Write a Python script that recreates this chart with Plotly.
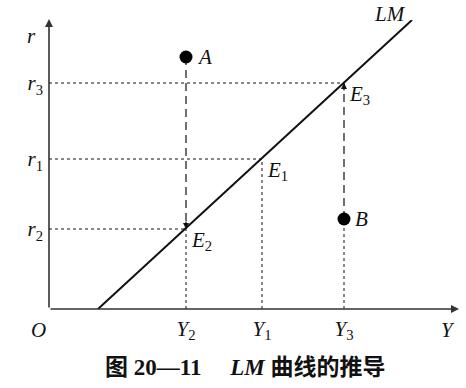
import plotly.graph_objects as go

# ---- data (diagram coordinates, origin O at axis crossing) ----
y_income_labels = ["Y<sub>2</sub>", "Y<sub>1</sub>", "Y<sub>3</sub>"]
y_income_vals = [137, 213, 295]
r_labels = ["r<sub>2</sub>", "r<sub>1</sub>", "r<sub>3</sub>"]
r_vals = [80, 150, 226]
lm_x = [49, 363]
lm_y = [0, 289]
point_names = ["A", "B"]
point_x = [137, 295]
point_y = [252, 90]
eq_names = ["E<sub>2</sub>", "E<sub>1</sub>", "E<sub>3</sub>"]
x_max = 409
y_max = 289

SERIF = "Liberation Serif, Times New Roman, serif"
INK = "#111"

fig = go.Figure()

# LM curve
fig.add_trace(go.Scatter(x=lm_x, y=lm_y, mode="lines",
                         line=dict(color=INK, width=2), hoverinfo="skip"))

# dotted guides: horizontal from r-axis to equilibria
for yv, rv in zip(y_income_vals, r_vals):
    fig.add_trace(go.Scatter(x=[0, yv], y=[rv, rv], mode="lines",
                             line=dict(color=INK, width=1, dash="dot"), hoverinfo="skip"))
# vertical dotted from E2, E1 down to axis
for yv, rv in zip(y_income_vals[:2], r_vals[:2]):
    fig.add_trace(go.Scatter(x=[yv, yv], y=[0, rv], mode="lines",
                             line=dict(color=INK, width=1, dash="dot"), hoverinfo="skip"))
# vertical dotted from B down to axis
fig.add_trace(go.Scatter(x=[point_x[1], point_x[1]], y=[0, point_y[1]], mode="lines",
                         line=dict(color=INK, width=1, dash="dot"), hoverinfo="skip"))

# dashed moves: A -> E2, B -> E3
fig.add_trace(go.Scatter(x=[point_x[0], y_income_vals[0]], y=[point_y[0], r_vals[0]], mode="lines",
                         line=dict(color=INK, width=1.2, dash="8px,5px"), hoverinfo="skip"))
fig.add_trace(go.Scatter(x=[point_x[1], y_income_vals[2]], y=[point_y[1], r_vals[2]], mode="lines",
                         line=dict(color=INK, width=1.2, dash="8px,5px"), hoverinfo="skip"))

# points A, B
fig.add_trace(go.Scatter(x=point_x, y=point_y, mode="markers",
                         marker=dict(color="black", size=13), hoverinfo="skip"))

ann = []
# axes with arrows
ann.append(dict(x=x_max + 1, y=0, ax=0, ay=0, xref="x", yref="y", axref="x", ayref="y",
                text="", showarrow=True, arrowhead=2, arrowsize=1, arrowwidth=1.6, arrowcolor="#333"))
ann.append(dict(x=0, y=y_max + 1, ax=0, ay=0, xref="x", yref="y", axref="x", ayref="y",
                text="", showarrow=True, arrowhead=2, arrowsize=1, arrowwidth=1.6, arrowcolor="#333"))
# arrowheads on dashed moves
ann.append(dict(x=y_income_vals[0], y=r_vals[0], ax=0, ay=-9, xref="x", yref="y",
                text="", showarrow=True, arrowhead=2, arrowsize=1, arrowwidth=1.2, arrowcolor=INK))
ann.append(dict(x=y_income_vals[2], y=r_vals[2], ax=0, ay=9, xref="x", yref="y",
                text="", showarrow=True, arrowhead=2, arrowsize=1, arrowwidth=1.2, arrowcolor=INK))

f_lab = dict(family=SERIF, size=21, color=INK)
# point labels
for nm, px, py in zip(point_names, point_x, point_y):
    ann.append(dict(x=px, y=py, xref="x", yref="y", text=f"<i>{nm}</i>", showarrow=False,
                    xanchor="left", yanchor="middle", xshift=9, font=f_lab))
# equilibrium labels
for nm, px, py in zip(eq_names, y_income_vals, r_vals):
    nm_i = nm.replace("E<sub>", "<i>E</i><sub>")
    ann.append(dict(x=px, y=py, xref="x", yref="y", text=nm_i, showarrow=False,
                    xanchor="left", yanchor="top", xshift=3, yshift=3, font=f_lab))
# LM label
ann.append(dict(x=lm_x[1], y=lm_y[1], xref="x", yref="y", text="<i>LM</i>", showarrow=False,
                xanchor="right", yanchor="bottom", xshift=-4, yshift=-8, font=f_lab))
# axis names and origin
ann.append(dict(x=0, y=y_max, xref="x", yref="y", text="<i>r</i>", showarrow=False,
                xanchor="right", yanchor="top", xshift=-11, yshift=-2, font=f_lab))
ann.append(dict(x=x_max, y=0, xref="x", yref="y", text="<i>Y</i>", showarrow=False,
                xanchor="right", yanchor="top", xshift=-1, yshift=-7, font=f_lab))
ann.append(dict(x=0, y=0, xref="x", yref="y", text="<i>O</i>", showarrow=False,
                xanchor="right", yanchor="top", xshift=-1, yshift=-7, font=f_lab))
# caption
ann.append(dict(x=0.478, y=0, xref="paper", yref="paper", yanchor="top", yshift=-44,
                text="<b>图 20—11 　<i>LM</i> 曲线的推导</b>", showarrow=False,
                font=dict(family="Liberation Serif, Noto Sans CJK SC", size=23, color=INK)))

tick_ti = [lab.replace(lab.split("<")[0], f"<i>{lab.split('<')[0]}</i>", 1) for lab in y_income_labels]
tick_ri = [lab.replace(lab.split("<")[0], f"<i>{lab.split('<')[0]}</i>", 1) for lab in r_labels]

fig.update_layout(
    width=466, height=388, autosize=False,
    margin=dict(l=49, r=8, t=20, b=79),
    paper_bgcolor="white", plot_bgcolor="white",
    showlegend=False,
    annotations=ann,
    xaxis=dict(range=[0, x_max], showgrid=False, zeroline=False, showline=False,
               tickmode="array", tickvals=y_income_vals, ticktext=tick_ti, ticks="",
               ticklabelstandoff=5, tickfont=f_lab),
    yaxis=dict(range=[0, y_max], showgrid=False, zeroline=False, showline=False,
               tickmode="array", tickvals=r_vals, ticktext=tick_ri, ticks="",
               ticklabelstandoff=5, tickfont=f_lab),
)

fig.write_html("out.html")
